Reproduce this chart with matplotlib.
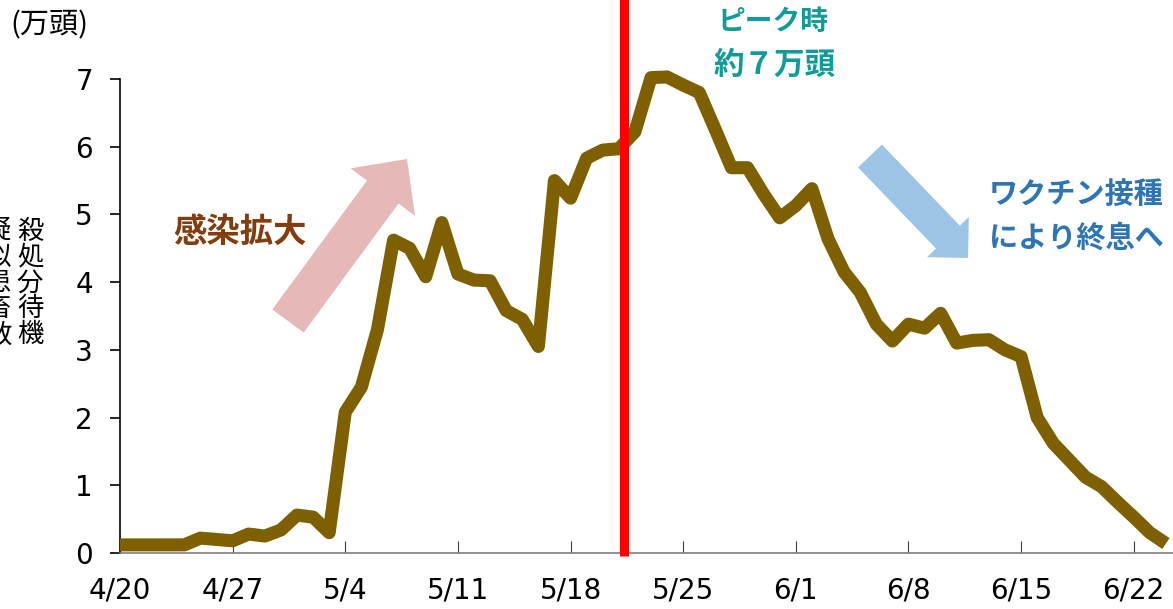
import matplotlib
matplotlib.use("Agg")
import matplotlib.pyplot as plt
from matplotlib.patches import FancyArrow
from matplotlib.transforms import Affine2D

# 殺処分待機疑似患畜数 (万頭), daily from 4/20 to 6/24
heads = [0.12, 0.12, 0.12, 0.12, 0.12, 0.22, 0.20, 0.18, 0.28, 0.25,
         0.34, 0.56, 0.53, 0.30, 2.08, 2.45, 3.30, 4.62, 4.50, 4.08,
         4.88, 4.12, 4.03, 4.02, 3.58, 3.45, 3.05, 5.50, 5.24, 5.83,
         5.95, 5.97, 6.22, 7.02, 7.03, 6.91, 6.80, 6.25, 5.69, 5.69,
         5.30, 4.95, 5.13, 5.38, 4.64, 4.15, 3.85, 3.38, 3.13, 3.38,
         3.32, 3.54, 3.10, 3.14, 3.15, 3.00, 2.90, 2.00, 1.62, 1.37,
         1.12, 0.98, 0.75, 0.53, 0.30, 0.14]
days = list(range(len(heads)))
date_labels = ["4/20", "4/27", "5/4", "5/11", "5/18", "5/25", "6/1", "6/8", "6/15", "6/22"]
peak_day = 31.35

W, H = 1173, 609
fig = plt.figure(figsize=(W / 100, H / 100), dpi=100)
ax = fig.add_axes([120 / W, 56 / H, 1053 / W, 474 / H])

jp = "Noto Sans CJK JP"
# image-pixel coordinates (origin top-left) for the decorations
px = Affine2D().scale(1 / W, -1 / H).translate(0, 1) + fig.transFigure

ax.plot(days, heads, color="#7f6000", lw=9.4, solid_joinstyle="round",
        solid_capstyle="butt", clip_on=False, zorder=3)
ax.plot([peak_day, peak_day], [-0.05, 8.3], color="#ff0000", lw=6.5,
        solid_capstyle="butt", clip_on=False, zorder=4)

ax.set_xlim(0, 65.44)
ax.set_ylim(0, 7)
ax.set_xticks(range(0, 7 * len(date_labels), 7))
ax.set_xticklabels(date_labels)
ax.set_yticks(range(0, 8))

ax.spines["top"].set_visible(False)
ax.spines["right"].set_visible(False)
ax.spines["left"].set_linewidth(1.2)
ax.spines["bottom"].set_color("#7f7f7f")
ax.spines["bottom"].set_linewidth(1.2)
ax.tick_params(axis="y", direction="out", length=7.5, width=1.2, pad=12, labelsize=20)
ax.tick_params(axis="x", direction="in", length=9, width=0.8, color="#404040",
               pad=17, labelsize=20)

fig.text(10, 25, "(万頭)", transform=px, family=jp, fontsize=21,
         ha="left", va="center")
fig.text(30, 283, "殺\n処\n分\n待\n機", transform=px, family=jp, fontsize=19,
         ha="center", va="center", linespacing=0.95)
fig.text(-2, 283, "疑\n似\n患\n畜\n数", transform=px, family=jp, fontsize=19,
         ha="center", va="center", linespacing=0.95)

fig.text(240, 232, "感染拡大", transform=px, family=jp, fontsize=24,
         fontweight="bold", color="#843c0c", ha="center", va="center")
fig.text(773, 22, "ピーク時", transform=px, family=jp, fontsize=20,
         fontweight="bold", color="#109b9b", ha="center", va="center")
fig.text(775, 65, "約７万頭", transform=px, family=jp, fontsize=22,
         fontweight="bold", color="#109b9b", ha="center", va="center")
fig.text(1076, 194, "ワクチン接種", transform=px, family=jp, fontsize=21,
         fontweight="bold", color="#2e75b6", ha="center", va="center")
fig.text(1076, 238, "により終息へ", transform=px, family=jp, fontsize=21,
         fontweight="bold", color="#2e75b6", ha="center", va="center")

fig.add_artist(FancyArrow(288, 321, 119, -162, width=39, head_width=80,
                          head_length=41, length_includes_head=True,
                          transform=px, color="#e6b8b7", lw=0))
fig.add_artist(FancyArrow(870, 156, 98, 102, width=33, head_width=58,
                          head_length=29, length_includes_head=True,
                          transform=px, color="#9dc3e6", lw=0))

fig.savefig("out.png", dpi=100)
